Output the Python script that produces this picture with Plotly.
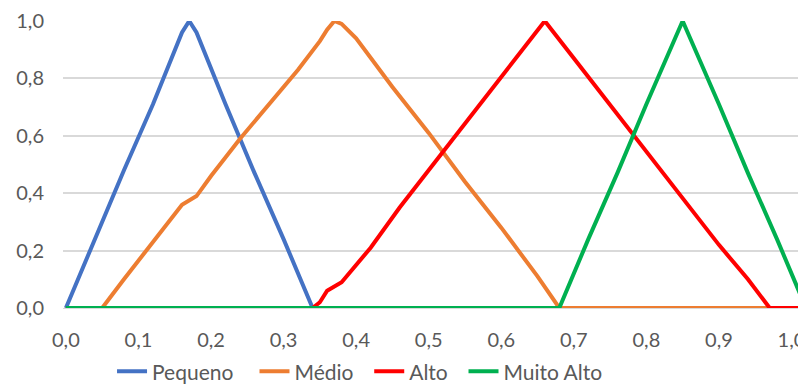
import plotly.graph_objects as go

# Membership functions
pequeno_x = [0.00, 0.04, 0.08, 0.12, 0.16, 0.17, 0.18, 0.22, 0.26, 0.30, 0.34, 1.02]
pequeno_y = [0.00, 0.24, 0.48, 0.71, 0.96, 1.00, 0.96, 0.71, 0.47, 0.24, 0.00, 0.00]

medio_x = [0.00, 0.05, 0.08, 0.12, 0.16, 0.18, 0.20, 0.24, 0.28, 0.32, 0.35, 0.36, 0.37, 0.38,
           0.40, 0.45, 0.50, 0.55, 0.60, 0.65, 0.68, 1.02]
medio_y = [0.00, 0.00, 0.10, 0.23, 0.36, 0.39, 0.46, 0.59, 0.71, 0.83, 0.93, 0.97, 1.00, 0.99,
           0.94, 0.77, 0.61, 0.44, 0.28, 0.11, 0.00, 0.00]

alto_x = [0.00, 0.34, 0.35, 0.36, 0.38, 0.40, 0.42, 0.46, 0.50, 0.54, 0.58, 0.62, 0.66,
          0.70, 0.74, 0.78, 0.82, 0.86, 0.90, 0.94, 0.97, 1.02]
alto_y = [0.00, 0.00, 0.02, 0.06, 0.09, 0.15, 0.21, 0.35, 0.48, 0.61, 0.74, 0.87, 1.00,
          0.87, 0.74, 0.61, 0.48, 0.35, 0.22, 0.10, 0.00, 0.00]

muito_x = [0.00, 0.68, 0.72, 0.76, 0.80, 0.85, 0.90, 0.94, 0.98, 1.02]
muito_y = [0.00, 0.00, 0.24, 0.47, 0.71, 1.00, 0.71, 0.47, 0.24, 0.00]

names = ["Pequeno", "Médio", "Alto", "Muito Alto"]
colors = ["#4472C4", "#ED7D31", "#FF0000", "#00B050"]
xs = [pequeno_x, medio_x, alto_x, muito_x]
ys = [pequeno_y, medio_y, alto_y, muito_y]

y_ticks = [0.0, 0.2, 0.4, 0.6, 0.8, 1.0]
y_tick_text = ["0,0", "0,2", "0,4", "0,6", "0,8", "1,0"]
x_ticks = [0.0, 0.1, 0.2, 0.3, 0.4, 0.5, 0.6, 0.7, 0.8, 0.9, 1.0]
x_tick_text = ["0,0", "0,1", "0,2", "0,3", "0,4", "0,5", "0,6", "0,7", "0,8", "0,9", "1,0"]

pads = [3, 2, 2, 0]  # legend spacing (non-breaking spaces after each name)
fig = go.Figure()
for n, c, x, y, p in zip(names, colors, xs, ys, pads):
    fig.add_trace(go.Scatter(x=x, y=y, mode="lines", name=n + "\u00a0" * p,
                             line=dict(color=c, width=4), cliponaxis=False))

# the page body adds an 8px offset, so the figure is sized 8px smaller
fig.update_layout(
    width=798, height=377,
    margin=dict(l=55, r=0, t=13, b=77, autoexpand=False),
    plot_bgcolor="white", paper_bgcolor="white",
    font=dict(family="Lato, sans-serif", color="#595959"),
    showlegend=True,
    legend=dict(orientation="h", x=0.066, xanchor="left", y=-0.222, yanchor="middle",
                font=dict(size=21, color="#595959"), itemwidth=30,
                tracegroupgap=0, bgcolor="rgba(0,0,0,0)"),
)
fig.update_xaxes(range=[-0.004, 1.02], tickvals=x_ticks, ticktext=x_tick_text,
                 showgrid=False, zeroline=False, showline=True, linecolor="#D9D9D9",
                 linewidth=1, ticks="", tickfont=dict(size=20, color="#595959"),
                 ticklabelstandoff=14, automargin=False)
fig.update_yaxes(range=[0, 1.0], tickvals=y_ticks, ticktext=y_tick_text,
                 showgrid=True, gridcolor="#D9D9D9", gridwidth=1.5, zeroline=False,
                 showline=False, ticks="", tickfont=dict(size=20, color="#595959"),
                 ticklabelstandoff=18, automargin=False)

fig.write_html("out.html")
